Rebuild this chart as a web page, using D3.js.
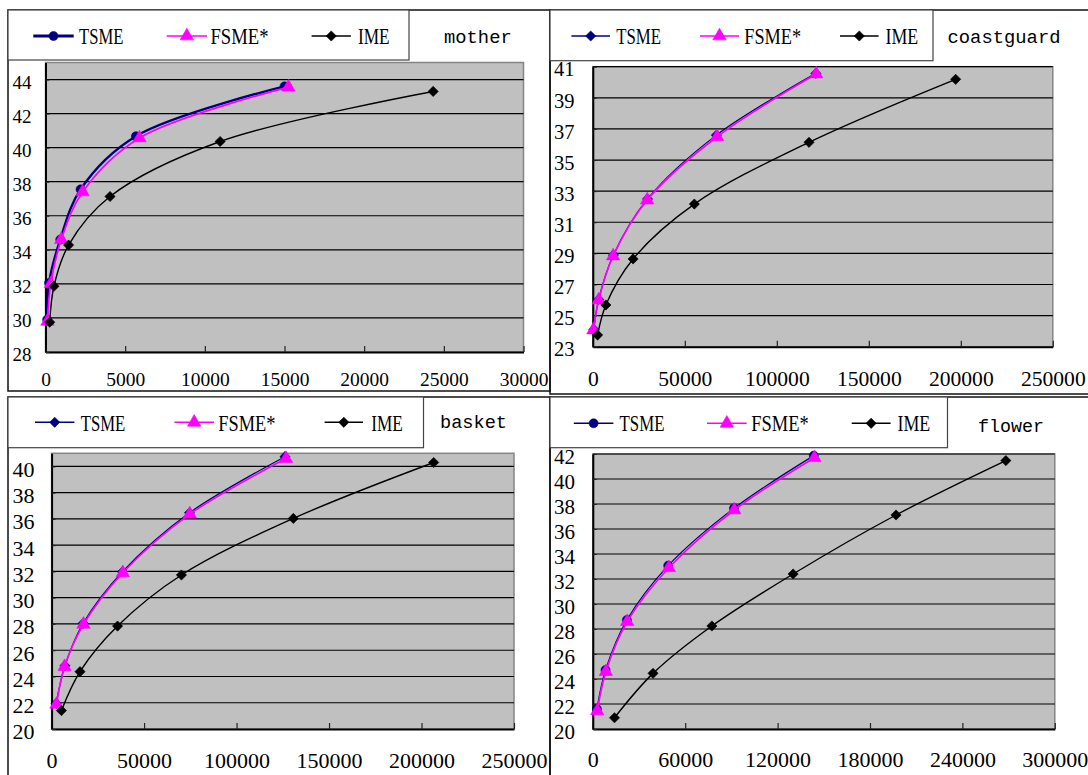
<!DOCTYPE html>
<html>
<head>
<meta charset="utf-8">
<script src="https://cdn.jsdelivr.net/npm/d3@7"></script>
<style>
  body { margin: 0; background: #fff; }
  text { fill: #000; font-family: "Liberation Serif", "Times New Roman", serif; }
  text.mono { font-family: "Liberation Mono", "Courier New", monospace; }
</style>
</head>
<body>
<svg id="chart" width="1088" height="775"></svg>
<script>
const seriesNames = ["TSME", "FSME*", "IME"];
const seriesColors = ["#000080", "#ff00ff", "#000000"];

// mother
const motherTSME = [[100, 29.9], [220, 32.05], [925, 34.6], [2200, 37.55], [5675, 40.67], [15000, 43.6]];
const motherFSME = [[120, 29.8], [330, 32.0], [990, 34.6], [2330, 37.4], [5900, 40.57], [15250, 43.55]];
const motherIME = [[265, 29.75], [530, 31.86], [1450, 34.28], [4050, 37.13], [10960, 40.36], [24330, 43.3]];
const motherXTicks = [0, 5000, 10000, 15000, 20000, 25000, 30000];
const motherYTicks = [28, 30, 32, 34, 36, 38, 40, 42, 44];

// coastguard
const coastTSME = [[560, 24.11], [3180, 26.04], [11200, 28.9], [29750, 32.5], [67170, 36.6], [121240, 40.57]];
const coastFSME = [[300, 24.07], [3200, 26.0], [11040, 28.83], [29560, 32.43], [67540, 36.5], [121400, 40.53]];
const coastIME = [[2620, 23.75], [7110, 25.68], [21890, 28.64], [55190, 32.17], [117500, 36.14], [197200, 40.19]];
const coastXTicks = [0, 50000, 100000, 150000, 200000, 250000];
const coastYTicks = [23, 25, 27, 29, 31, 33, 35, 37, 39, 41];

// basket
const basketTSME = [[2470, 21.95], [7210, 24.82], [17070, 28.05], [38320, 31.98], [74550, 36.47], [126150, 40.74]];
const basketFSME = [[2650, 21.88], [7020, 24.75], [17260, 27.97], [38510, 31.9], [74740, 36.37], [126720, 40.6]];
const basketIME = [[5310, 21.4], [15370, 24.37], [35660, 27.84], [70190, 31.73], [130700, 36.04], [206580, 40.3]];
const basketXTicks = [0, 50000, 100000, 150000, 200000, 250000];
const basketYTicks = [20, 22, 24, 26, 28, 30, 32, 34, 36, 38, 40];

// flower
const flowerTSME = [[2680, 21.6], [8270, 24.72], [22130, 28.72], [48950, 33.07], [91640, 37.65], [143490, 41.87]];
const flowerFSME = [[2900, 21.44], [8490, 24.59], [22350, 28.59], [49390, 32.9], [91860, 37.52], [143930, 41.7]];
const flowerIME = [[14080, 20.9], [39110, 24.45], [77330, 28.24], [130080, 32.4], [196900, 37.12], [268200, 41.47]];
const flowerXTicks = [0, 60000, 120000, 180000, 240000, 300000];
const flowerYTicks = [20, 22, 24, 26, 28, 30, 32, 34, 36, 38, 40, 42];

const panels = [
  {
    title: "mother", series: [motherTSME, motherFSME, motherIME],
    xTicks: motherXTicks, yTicks: motherYTicks, yMax: 45, tsmeSymbol: "circle", tsmeWidth: 2.4,
    frame: {x: 8, y: 10, w: 542, h: 381},
    legendBox: {x: 8, y: 10, w: 401, h: 50},
    titlePos: {x: 444, y: 43.3, w: 67.7},
    legend: {y: 36, base: 44.3, items: [
      {x1: 33.3, x2: 73.7, tx: 79, tw: 44.3},
      {x1: 166.7, x2: 207, tx: 210.5, tw: 58},
      {x1: 311.6, x2: 350.9, tx: 358, tw: 31.6}]},
    plot: {x: 45.5, y: 62.5, w: 478, h: 289.5},
    yLabelX: 31.5, yFont: 19, xFont: 19.5, xBase: 386
  },
  {
    title: "coastguard", series: [coastTSME, coastFSME, coastIME],
    xTicks: coastXTicks, yTicks: coastYTicks, yMax: 41, tsmeSymbol: "diamond", tsmeWidth: 1.2,
    frame: {x: 550, y: 10, w: 545, h: 384},
    legendBox: {x: 550, y: 10, w: 383, h: 50.7},
    titlePos: {x: 947.5, y: 43.3, w: 113},
    legend: {y: 36, base: 44.3, items: [
      {x1: 571.4, x2: 610, tx: 616.2, tw: 44.8},
      {x1: 700, x2: 739, tx: 744.3, tw: 56.8},
      {x1: 840, x2: 878.6, tx: 885.5, tw: 32.7}]},
    plot: {x: 592.8, y: 66.7, w: 460, h: 280},
    yLabelX: 574.5, yFont: 20.5, xFont: 21.6, xBase: 386
  },
  {
    title: "basket", series: [basketTSME, basketFSME, basketIME],
    xTicks: basketXTicks, yTicks: basketYTicks, yMax: 41, tsmeSymbol: "diamond", tsmeWidth: 1.2,
    frame: {x: 8, y: 397, w: 542, h: 400},
    legendBox: {x: 8, y: 397, w: 415.5, h: 50.7},
    titlePos: {x: 440, y: 428.3, w: 67},
    legend: {y: 422.3, base: 431, items: [
      {x1: 35, x2: 74.4, tx: 80.7, tw: 44.6},
      {x1: 174.4, x2: 214, tx: 218.2, tw: 57.2},
      {x1: 324.6, x2: 363, tx: 371.2, tw: 31.6}]},
    plot: {x: 51.6, y: 453.3, w: 462.4, h: 275.7},
    yLabelX: 34.4, yFont: 22, xFont: 22, xBase: 768.3
  },
  {
    title: "flower", series: [flowerTSME, flowerFSME, flowerIME],
    xTicks: flowerXTicks, yTicks: flowerYTicks, yMax: 42, tsmeSymbol: "circle", tsmeWidth: 1.2,
    frame: {x: 550, y: 397, w: 545, h: 400},
    legendBox: {x: 550, y: 397, w: 397.5, h: 50.7},
    titlePos: {x: 978, y: 432.3, w: 66},
    legend: {y: 423.3, base: 431, items: [
      {x1: 573.8, x2: 613.4, tx: 619.6, tw: 44.8},
      {x1: 707, x2: 746.7, tx: 751.2, tw: 57.5},
      {x1: 851.7, x2: 890.6, tx: 897.5, tw: 32.7}]},
    plot: {x: 592.8, y: 454, w: 462, h: 275},
    yLabelX: 575, yFont: 21, xFont: 22, xBase: 766.7
  }
];

const svg = d3.select("#chart");
svg.append("rect").attr("width", 1088).attr("height", 775).attr("fill", "#fff");

function symbolPath(kind) {
  if (kind === "circle") return d3.symbol(d3.symbolCircle, 64)();
  if (kind === "triangle") return d3.symbol(d3.symbolTriangle, 78)();
  return d3.symbol(d3.symbolSquare, 52)(); // rotated 45deg -> diamond
}

function drawMarker(g, kind, color, cx, cy) {
  const m = g.append("path")
    .attr("d", symbolPath(kind))
    .attr("fill", color)
    .attr("stroke", color)
    .attr("stroke-width", 0.6);
  if (kind === "diamond") m.attr("transform", `translate(${cx},${cy}) rotate(45)`);
  else m.attr("transform", `translate(${cx},${cy})`);
}

function drawPanel(p) {
  const g = svg.append("g");
  const symbols = [p.tsmeSymbol, "triangle", "diamond"];
  const widths = [p.tsmeWidth, 1.7, 1.4];

  // frame
  g.append("rect")
    .attr("x", p.frame.x).attr("y", p.frame.y)
    .attr("width", p.frame.w).attr("height", p.frame.h)
    .attr("fill", "none").attr("stroke", "#111").attr("stroke-width", 1.5);

  // legend box
  g.append("rect")
    .attr("x", p.legendBox.x).attr("y", p.legendBox.y)
    .attr("width", p.legendBox.w).attr("height", p.legendBox.h)
    .attr("fill", "#fff").attr("stroke", "#444").attr("stroke-width", 1.2);

  p.legend.items.forEach((it, i) => {
    g.append("line")
      .attr("x1", it.x1).attr("x2", it.x2)
      .attr("y1", p.legend.y).attr("y2", p.legend.y)
      .attr("stroke", seriesColors[i]).attr("stroke-width", i === 0 ? p.tsmeWidth + 0.4 : 1.5);
    drawMarker(g, symbols[i], seriesColors[i], (it.x1 + it.x2) / 2, p.legend.y);
    g.append("text")
      .attr("x", it.tx).attr("y", p.legend.base)
      .attr("font-size", 24)
      .attr("textLength", it.tw).attr("lengthAdjust", "spacingAndGlyphs")
      .text(seriesNames[i]);
  });

  g.append("text")
    .attr("class", "mono")
    .attr("x", p.titlePos.x).attr("y", p.titlePos.y)
    .attr("font-size", 19)
    .attr("textLength", p.titlePos.w).attr("lengthAdjust", "spacingAndGlyphs")
    .text(p.title);

  const xMax = p.xTicks[p.xTicks.length - 1];
  const yMin = p.yTicks[0];
  const x = d3.scaleLinear().domain([0, xMax]).range([p.plot.x, p.plot.x + p.plot.w]);
  const y = d3.scaleLinear().domain([yMin, p.yMax]).range([p.plot.y + p.plot.h, p.plot.y]);

  // plot area
  g.append("rect")
    .attr("x", p.plot.x).attr("y", p.plot.y)
    .attr("width", p.plot.w).attr("height", p.plot.h)
    .attr("fill", "#c0c0c0").attr("stroke", "#858585").attr("stroke-width", 1.5);

  // gridlines
  g.append("g").selectAll("line")
    .data(p.yTicks.filter(v => v !== yMin))
    .join("line")
    .attr("x1", p.plot.x).attr("x2", p.plot.x + p.plot.w)
    .attr("y1", d => y(d)).attr("y2", d => y(d))
    .attr("stroke", "#000").attr("stroke-width", 1.2);

  // x axis
  const xAxis = g.append("g")
    .attr("transform", `translate(0,${p.plot.y + p.plot.h})`)
    .call(d3.axisBottom(x).tickValues(p.xTicks).tickSize(-6).tickSizeOuter(0).tickFormat(d => d));
  xAxis.select(".domain").attr("stroke", "#000").attr("stroke-width", 2);
  xAxis.selectAll(".tick line").attr("stroke", "#222").attr("stroke-width", 1.2);
  xAxis.selectAll(".tick text")
    .attr("y", p.xBase - (p.plot.y + p.plot.h)).attr("dy", null)
    .attr("font-size", p.xFont).attr("fill", "#000");

  // y axis
  const yAxis = g.append("g")
    .attr("transform", `translate(${p.plot.x},0)`)
    .call(d3.axisLeft(y).tickValues(p.yTicks).tickSize(-4).tickSizeOuter(0).tickFormat(d => d));
  yAxis.select(".domain").attr("stroke", "#000").attr("stroke-width", 2);
  yAxis.selectAll(".tick line").attr("stroke", "#222");
  yAxis.selectAll(".tick text")
    .attr("x", p.yLabelX - p.plot.x).attr("dy", "0.45em")
    .attr("font-size", p.yFont).attr("fill", "#000");
  xAxis.attr("font-family", null).attr("font-size", null);
  yAxis.attr("font-family", null).attr("font-size", null);

  // series
  const line = d3.line()
    .x(d => x(d[0])).y(d => y(d[1]))
    .curve(d3.curveCatmullRom.alpha(0.5));

  p.series.forEach((data, i) => {
    g.append("path")
      .datum(data)
      .attr("d", line)
      .attr("fill", "none")
      .attr("stroke", seriesColors[i])
      .attr("stroke-width", widths[i]);
    data.forEach(d => drawMarker(g, symbols[i], seriesColors[i], x(d[0]), y(d[1])));
  });
}

panels.forEach(drawPanel);
</script>
</body>
</html>
